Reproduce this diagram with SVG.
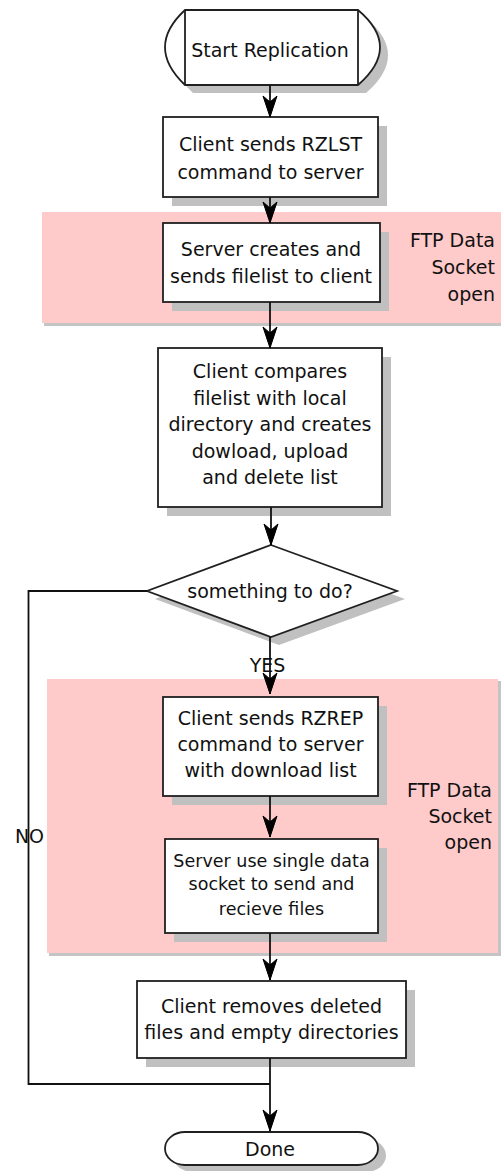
<svg xmlns="http://www.w3.org/2000/svg" width="501" height="1171" viewBox="0 0 501 1171">
<style>
.bg{fill:#ffffff}
.band{fill:#ffcaca}
.bandsh{fill:#c4c4c4}
.sh{fill:#c0c0c0}
.box{fill:#ffffff;stroke:#202020;stroke-width:1.8}
.t{font-family:"DejaVu Sans",Verdana,sans-serif;font-size:19px;fill:#111;text-anchor:middle}
.ts{font-family:"DejaVu Sans",Verdana,sans-serif;font-size:17.5px;fill:#111;text-anchor:middle}
.tr{font-family:"DejaVu Sans",Verdana,sans-serif;font-size:19px;fill:#111;text-anchor:end}
.c{fill:none;stroke:#111;stroke-width:1.8}
</style>
<defs>
<marker id="arr" markerUnits="userSpaceOnUse" viewBox="0 0 22 16" refX="22" refY="8" markerWidth="22" markerHeight="16" orient="auto">
<path d="M22,8 L1,1 L7,8 L1,15 Z" fill="#000" stroke="#000" stroke-width="1" stroke-linejoin="round"/>
</marker>
</defs>
<rect class="bg" x="0" y="0" width="501" height="1171"/>

<g id="band1">
<rect class="bandsh" x="44" y="214" width="457" height="112"/>
<rect class="band" x="42" y="212" width="459" height="111"/>
<text class="tr" x="495" y="247">FTP Data</text>
<text class="tr" x="495" y="274">Socket</text>
<text class="tr" x="495" y="301">open</text>
</g>
<g id="band2">
<rect class="bandsh" x="49" y="681" width="452" height="275"/>
<rect class="band" x="47" y="679" width="451" height="274"/>
<text class="tr" x="492" y="797">FTP Data</text>
<text class="tr" x="492" y="823">Socket</text>
<text class="tr" x="492" y="849">open</text>
</g>

<g id="start">
<path class="sh" d="M193,18 H366 Q410,55 366,93 H193 Q153,55 193,18 Z"/>
<path class="box" d="M185,10 H358 Q402,47 358,85 H185 Q145,47 185,10 Z"/>
<line class="box" x1="185" y1="10" x2="185" y2="85"/>
<line class="box" x1="358" y1="10" x2="358" y2="85"/>
<text class="t" x="270" y="57">Start Replication</text>
</g>

<g id="n2">
<rect class="sh" x="172" y="126" width="215" height="80"/>
<rect class="box" x="163" y="117" width="215" height="80"/>
<text class="t" x="270.5" y="151">Client sends RZLST</text>
<text class="t" x="270.5" y="179">command to server</text>
</g>

<g id="n3">
<rect class="sh" x="172" y="232" width="217" height="79"/>
<rect class="box" x="163" y="223" width="217" height="79"/>
<text class="t" x="271" y="256">Server creates and</text>
<text class="t" x="271" y="283">sends filelist to client</text>
</g>

<g id="n4">
<rect class="sh" x="167" y="357" width="224" height="159"/>
<rect class="box" x="158" y="348" width="224" height="159"/>
<text class="t" x="270" y="378">Client compares</text>
<text class="t" x="270" y="404.5">filelist with local</text>
<text class="t" x="270" y="431">directory and creates</text>
<text class="t" x="270" y="457.5">dowload, upload</text>
<text class="t" x="270" y="484">and delete list</text>
</g>

<g id="n5">
<path class="sh" d="M279,553 L405,599 L279,645 L155,599 Z"/>
<path class="box" d="M271,545 L397,591 L271,637 L147,591 Z"/>
<text class="t" x="270" y="598">something to do?</text>
</g>

<g id="n6">
<rect class="sh" x="172" y="706" width="215" height="99"/>
<rect class="box" x="163" y="697" width="215" height="99"/>
<text class="t" x="270.5" y="725">Client sends RZREP</text>
<text class="t" x="270.5" y="751">command to server</text>
<text class="t" x="270.5" y="777">with download list</text>
</g>

<g id="n7">
<rect class="sh" x="174" y="848" width="213" height="94"/>
<rect class="box" x="165" y="839" width="213" height="94"/>
<text class="ts" x="271.5" y="867">Server use single data</text>
<text class="ts" x="271.5" y="890">socket to send and</text>
<text class="ts" x="271.5" y="915">recieve files</text>
</g>

<g id="n8">
<rect class="sh" x="146" y="990" width="269" height="77"/>
<rect class="box" x="137" y="981" width="269" height="77"/>
<text class="t" x="271.5" y="1013">Client removes deleted</text>
<text class="t" x="271.5" y="1039">files and empty directories</text>
</g>

<g id="done">
<rect class="sh" x="173" y="1139" width="213" height="33" rx="20" ry="16.5"/>
<rect class="box" x="165" y="1132" width="213" height="33" rx="20" ry="16.5"/>
<text class="t" x="270" y="1156">Done</text>
</g>

<g id="connectors">
<line class="c" x1="270" y1="85" x2="270" y2="117" marker-end="url(#arr)"/>
<line class="c" x1="270" y1="197" x2="270" y2="223" marker-end="url(#arr)"/>
<line class="c" x1="270" y1="302" x2="270" y2="348" marker-end="url(#arr)"/>
<line class="c" x1="271" y1="507" x2="271" y2="545" marker-end="url(#arr)"/>
<line class="c" x1="270" y1="637" x2="270" y2="694" marker-end="url(#arr)"/>
<line class="c" x1="270" y1="796" x2="270" y2="837" marker-end="url(#arr)"/>
<line class="c" x1="270" y1="933" x2="270" y2="980" marker-end="url(#arr)"/>
<line class="c" x1="270" y1="1058" x2="270" y2="1131" marker-end="url(#arr)"/>
<polyline class="c" points="147,591 28.5,591 28.5,1084 270,1084"/>
<text class="t" x="267.5" y="672">YES</text>
<text class="t" x="29.5" y="843">NO</text>
</g>
</svg>
